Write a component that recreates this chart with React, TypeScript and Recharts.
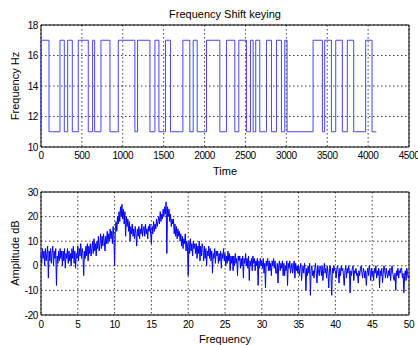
import React from 'react'
import { LineChart, Line, XAxis, YAxis, CartesianGrid, ReferenceArea } from 'recharts'

const FONT = '"Liberation Sans", Arial, Helvetica, sans-serif'

// FSK signal: switching instants (time) and the frequency held from each instant on
const switchTimes = [
  0, 0, 98, 232, 285, 326, 383, 456, 578, 631, 656, 733, 843, 945, 1148, 1181, 1332,
  1393, 1442, 1523, 1584, 1735, 1820, 1861, 1910, 2024, 2187, 2268, 2370, 2419, 2512,
  2561, 2594, 2626, 2675, 2757, 2818, 2879, 2940, 2981, 3009, 3327, 3441, 3469, 3551,
  3604, 3685, 3746, 3824, 3970, 4048, 4100,
]
const switchLevels = [
  11, 17, 11, 17, 11, 17, 11, 17, 11, 17, 11, 17, 11, 17, 11, 17, 11,
  17, 11, 17, 11, 17, 11, 17, 11, 17, 11, 17, 11, 17, 11,
  17, 11, 17, 11, 17, 11, 17, 11, 17, 11, 17, 11, 17, 11,
  17, 11, 17, 11, 17, 11, 11,
]

const timeTicks = [0, 500, 1000, 1500, 2000, 2500, 3000, 3500, 4000, 4500]
const freqHzTicks = [10, 12, 14, 16, 18]

// spectrum, one value every 0.1 Hz from 0 to 50 (dB), one row per Hz
const SPEC_STEP = 0.1
const spectrumDb = [
  5, 1, 7, 3, 6, 0, 7, 2, 5, 8,
  -5, 6, 2, 7, 1, 5, 8, 0, 6, 3,
  7, -8, 4, 1, 6, 2, 7, 3, 6, 0,
  6, 2, 7, -1, 5, 3, 7, 1, 6, 2,
  5, 0, 7, 3, 8, 1, 6, -1, 5, 3,
  8, 2, 7, 4, 9, 3, 7, 5, -4, 6,
  3, 8, 4, 9, 2, 8, 5, 9, 4, 7,
  10, 5, 11, 6, 9, 4, 10, 7, 12, 6,
  9, 13, 7, 12, 8, 13, 10, 6, 12, 9,
  14, 9, 13, 10, 15, 11, 14, 9, 16, 12,
  0, 15, 18, 14, 20, 17, 22, 18, 24, 20,
  25, 19, 23, 17, 22, 12, 20, 16, 19, 14,
  18, 10, 16, 13, 17, 12, 15, 11, 16, 13,
  8, 15, 12, 16, 11, 15, 13, 17, 12, 15,
  16, 12, 17, 13, 15, 11, 16, 14, 17, 13,
  9, 16, 13, 18, 14, 17, 15, 19, 16, 18,
  20, 17, 22, 18, 21, 19, 23, 20, 24, 21,
  26, 5, 24, 20, 23, 18, 21, 16, 19, 17,
  19, 13, 17, 12, 16, 11, 15, 12, 14, 10,
  13, 8, 12, 7, 11, 9, 13, 6, 10, 8,
  -4, 10, 5, 11, 6, 9, 4, 10, 7, 9,
  5, 9, 3, 8, 5, 10, 2, 8, 4, 9,
  7, 2, 8, 3, 7, 0, 6, 4, 8, 3,
  7, 2, 6, -3, 5, 3, 7, 1, 6, 4,
  6, 1, 5, 2, 6, -1, 5, 3, 7, 2,
  5, 0, 4, 1, 6, 2, 5, -2, 4, 1,
  4, -2, 4, 0, 5, 1, 3, -4, 4, 2,
  4, -1, 3, 0, 4, -5, 3, 1, 5, 0,
  3, -1, 4, -6, 2, 0, 3, -2, 4, 1,
  3, -2, 2, 0, 3, -8, 2, -1, 3, 0,
  2, -1, 3, -3, 1, -9, 2, 0, 3, -2,
  2, -2, 1, -4, 2, 0, 3, -1, 2, -3,
  -3, 1, -7, 0, 2, -2, 1, -1, 2, -4,
  1, -4, 0, -2, 2, -8, 1, -1, 2, -3,
  -1, 1, -3, 0, 2, -5, 1, -2, 0, -3,
  0, -4, -1, 1, -6, -2, 0, -3, 1, -2,
  -10, -1, -4, 0, -3, 1, -12, -2, 0, -4,
  -2, -5, -1, 1, -3, -7, 0, -2, -4, 0,
  -1, -4, 0, -6, -2, 1, -3, -1, -5, 0,
  -3, -9, -1, 0, -4, -12, -1, -3, 0, -2,
  -2, -5, -1, 0, -3, -7, -1, -4, 0, -2,
  -1, -4, -8, -2, 0, -5, -1, -3, 0, -2,
  -11, -2, -4, -1, 0, -6, -2, -3, -1, -4,
  -3, -7, -2, -4, -1, 0, -3, -5, -1, -2,
  -5, -2, -8, -3, -1, -4, 0, -2, -6, -1,
  -4, -2, -6, -1, -3, 0, -5, -2, -4, -1,
  -9, -2, -4, -1, -7, -3, 0, -2, -5, -1,
  -3, -5, -2, -4, -1, -6, -2, 0, -3, -5,
  -6, -3, -10, -2, -4, -1, -5, -2, -3, -1,
  -1, -5, -3, -11, -4, -2, -6, -1, -3, -5,
  -4,
]
const specFreqTicks = [0, 5, 10, 15, 20, 25, 30, 35, 40, 45, 50]
const ampTicks = [-20, -10, 0, 10, 20, 30]

const fskData = switchTimes.map((t, i) => ({ t, f: switchLevels[i] }))
const specData = spectrumDb.map((a, i) => ({ hz: +(i * SPEC_STEP).toFixed(2), a }))

const tickStyle = { fontSize: 10, fill: '#000', fontFamily: FONT, letterSpacing: -0.4 }
const textStyle: React.CSSProperties = {
  position: 'absolute',
  fontFamily: FONT,
  fontSize: 11,
  color: '#000',
  whiteSpace: 'nowrap',
  lineHeight: '12px',
}

export default function App() {
  return (
    <div style={{ position: 'absolute', left: 0, top: 0, width: 418, height: 345, background: '#fff' }}>
      <LineChart width={418} height={175} data={fskData} margin={{ top: 25, right: 9, bottom: 0, left: 0 }}>
        <CartesianGrid stroke="#000" strokeDasharray="1.5 2.5" strokeOpacity={0.75} />
        <XAxis
          dataKey="t"
          type="number"
          domain={[0, 4500]}
          ticks={timeTicks}
          height={28}
          tickLine={false}
          axisLine={false}
          tickSize={0}
          tickMargin={5}
          tick={tickStyle}
          interval={0}
        />
        <YAxis
          type="number"
          domain={[10, 18]}
          ticks={freqHzTicks}
          width={41}
          tickLine={false}
          axisLine={false}
          tickSize={0}
          tickMargin={3}
          tick={tickStyle}
          interval={0}
        />
        <Line
          type="stepAfter"
          dataKey="f"
          stroke="#4646ff"
          strokeWidth={1}
          dot={false}
          isAnimationActive={false}
        />
        <ReferenceArea x1={0} x2={4500} y1={10} y2={18} fill="none" stroke="#000" strokeWidth={1} />
      </LineChart>

      <LineChart width={418} height={170} data={specData} margin={{ top: 17, right: 9, bottom: 0, left: 0 }}>
        <CartesianGrid stroke="#000" strokeDasharray="1.5 2.5" strokeOpacity={0.75} />
        <XAxis
          dataKey="hz"
          type="number"
          domain={[0, 50]}
          ticks={specFreqTicks}
          height={30}
          tickLine={false}
          axisLine={false}
          tickSize={0}
          tickMargin={6}
          tick={tickStyle}
          interval={0}
        />
        <YAxis
          type="number"
          domain={[-20, 30]}
          ticks={ampTicks}
          width={41}
          tickLine={false}
          axisLine={false}
          tickSize={0}
          tickMargin={3}
          tick={tickStyle}
          interval={0}
        />
        <Line
          type="linear"
          dataKey="a"
          stroke="#0000ff"
          strokeWidth={1}
          dot={false}
          isAnimationActive={false}
        />
        <ReferenceArea x1={0} x2={50} y1={-20} y2={30} fill="none" stroke="#000" strokeWidth={1} />
      </LineChart>

      <div style={{ ...textStyle, left: 225, top: 8, transform: 'translateX(-50%)' }}>Frequency Shift keying</div>
      <div style={{ ...textStyle, left: 225, top: 165, transform: 'translateX(-50%)' }}>Time</div>
      <div style={{ ...textStyle, left: 225, top: 333, transform: 'translateX(-50%)' }}>Frequency</div>
      <div style={{ ...textStyle, left: 15, top: 86, transform: 'translate(-50%, -50%) rotate(-90deg)' }}>Frequency Hz</div>
      <div style={{ ...textStyle, left: 15, top: 253, transform: 'translate(-50%, -50%) rotate(-90deg)' }}>Amplitude dB</div>
    </div>
  )
}
